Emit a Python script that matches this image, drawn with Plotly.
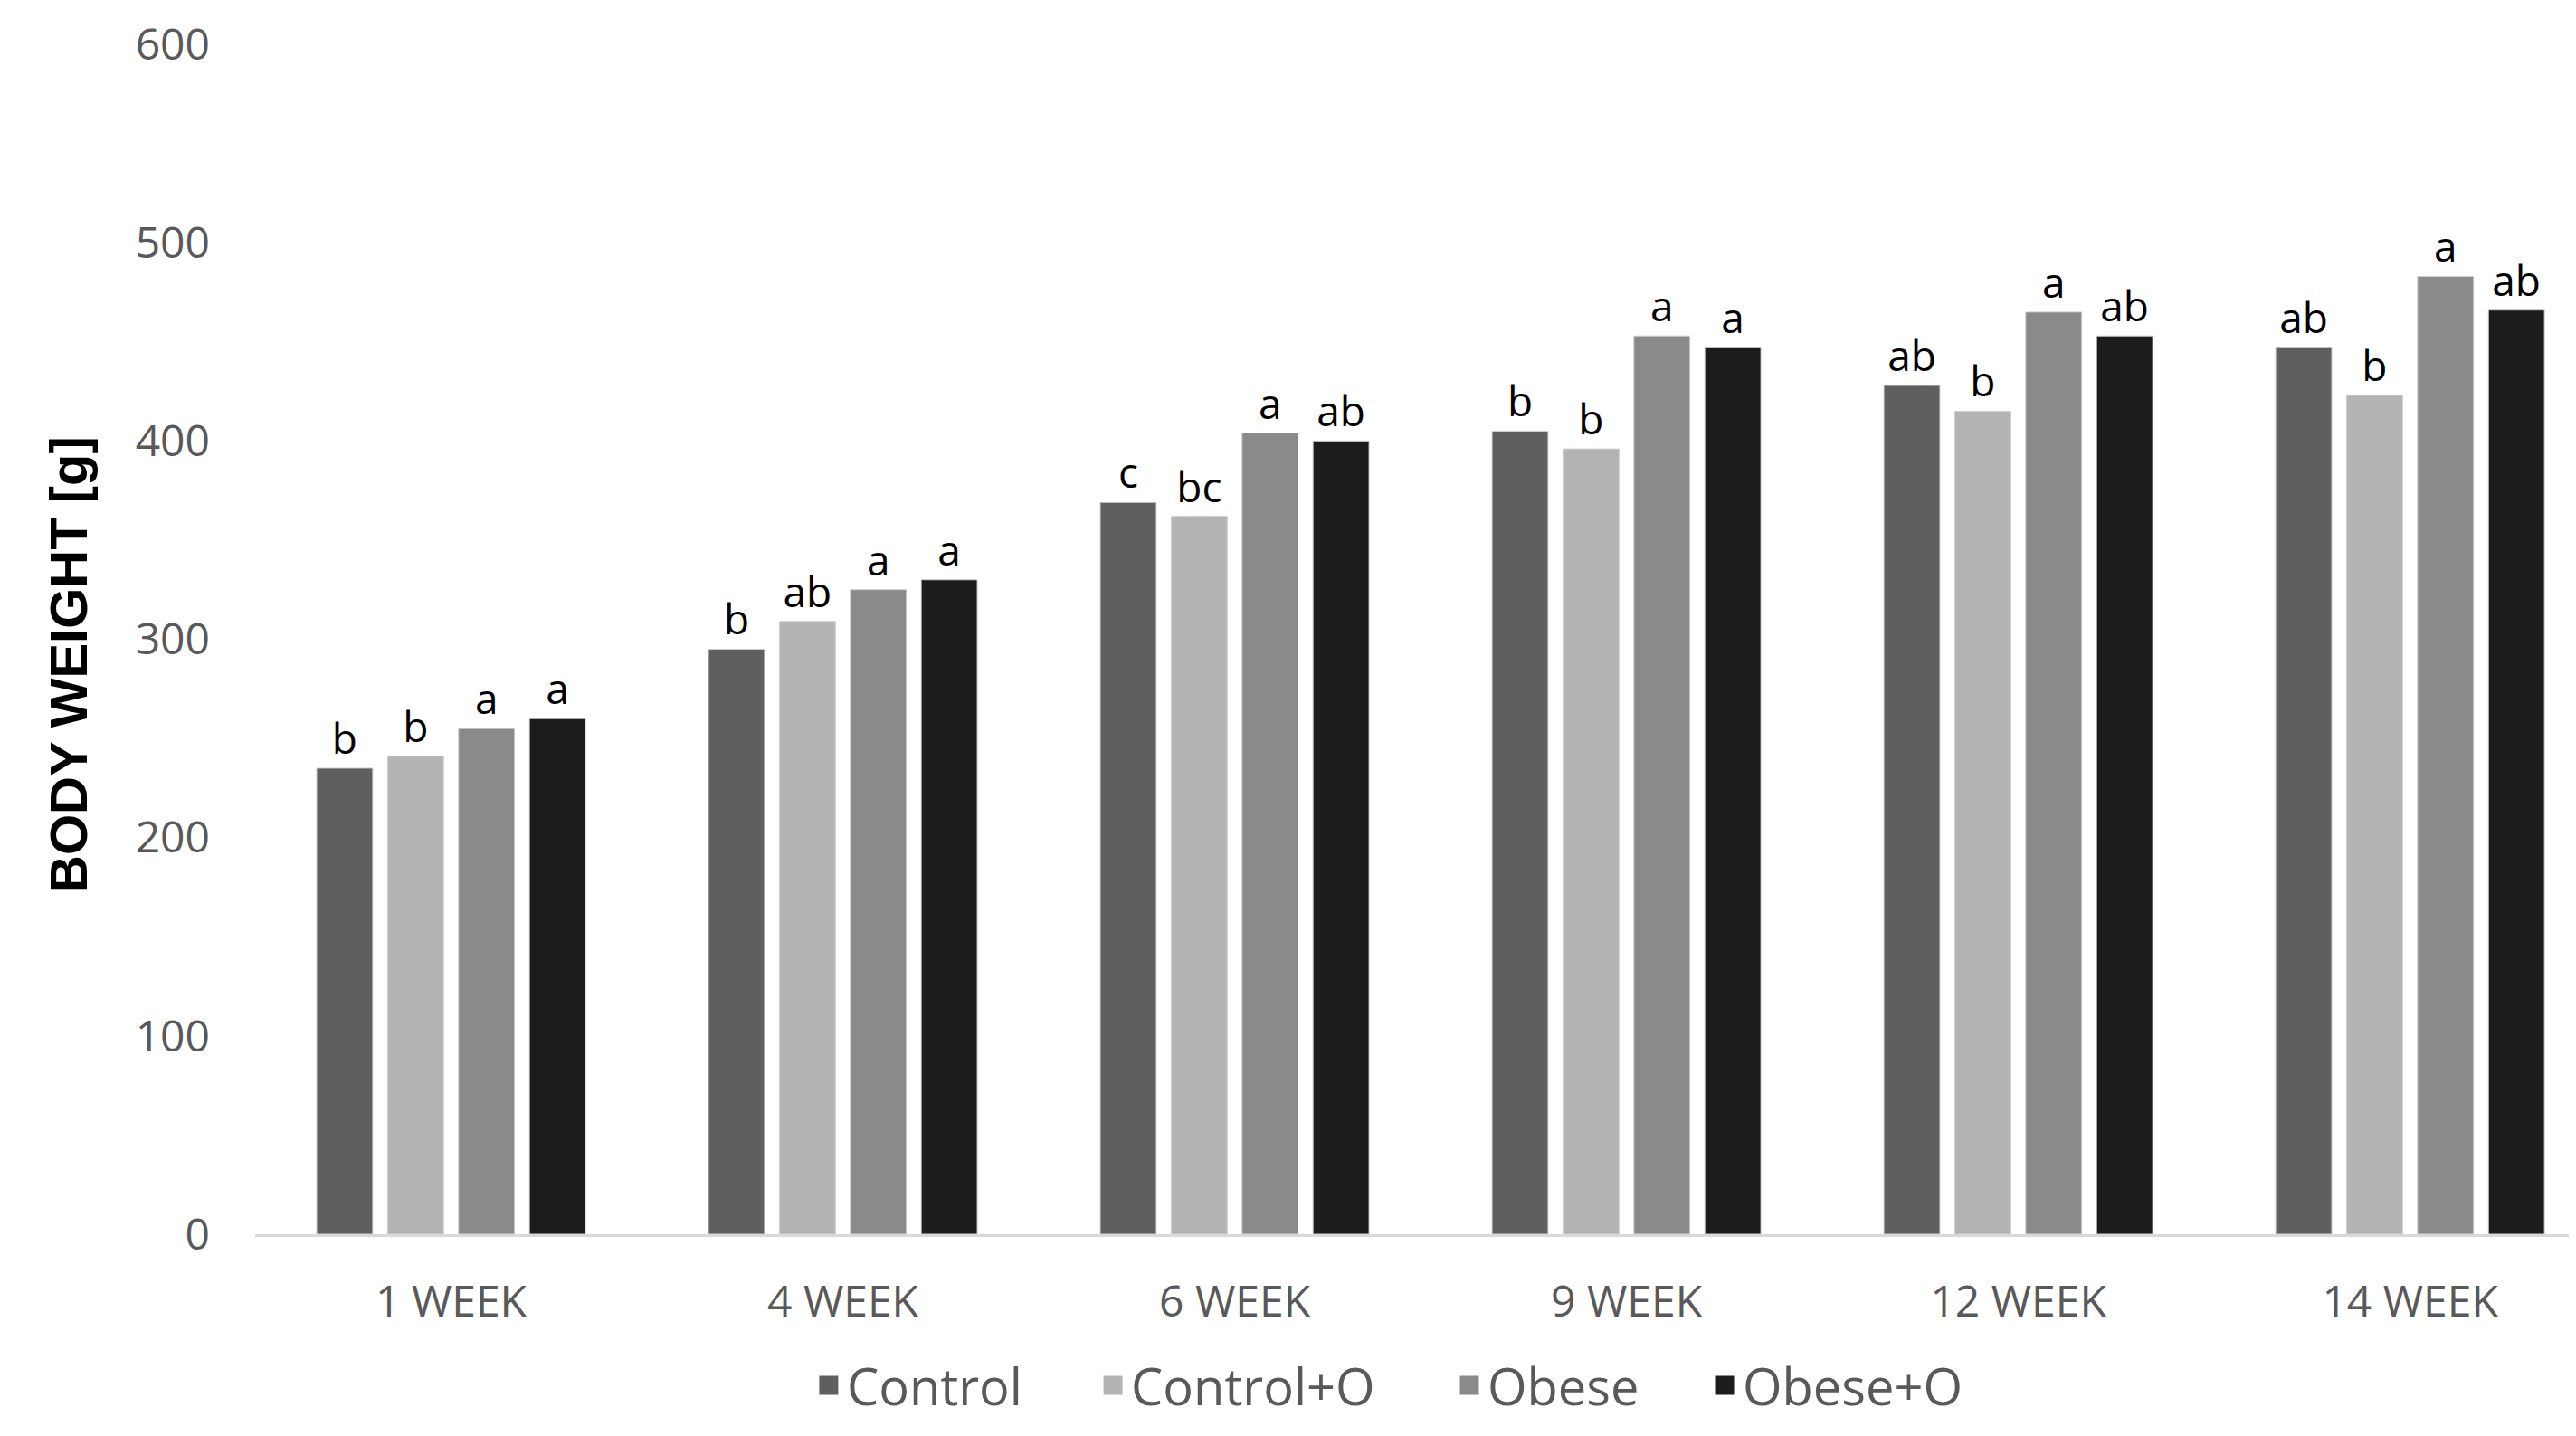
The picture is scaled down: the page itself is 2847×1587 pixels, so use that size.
import plotly.graph_objects as go

weeks = ["1 WEEK", "4 WEEK", "6 WEEK", "9 WEEK", "12 WEEK", "14 WEEK"]
series_names = ["Control", "Control+O", "Obese", "Obese+O"]
control = [235, 295, 369, 405, 428, 447]
control_o = [241, 309, 362, 396, 415, 423]
obese = [255, 325, 404, 453, 465, 483]
obese_o = [260, 330, 400, 447, 453, 466]
letters_control = ["b", "b", "c", "b", "ab", "ab"]
letters_control_o = ["b", "ab", "bc", "b", "b", "b"]
letters_obese = ["a", "a", "a", "a", "a", "a"]
letters_obese_o = ["a", "a", "ab", "a", "ab", "ab"]
colors = ["#5f5f5f", "#b3b3b3", "#8a8a8a", "#1c1c1c"]
y_ticks = [0, 100, 200, 300, 400, 500, 600]

values = [control, control_o, obese, obese_o]
letters = [letters_control, letters_control_o, letters_obese, letters_obese_o]
legend_ids = ["legend", "legend2", "legend3", "legend4"]
legend_x = [0.2386, 0.3607, 0.5138, 0.6234]

fig = go.Figure()
for name, vals, labs, col in zip(series_names, values, letters, colors):
    fig.add_trace(go.Bar(
        x=weeks, y=vals, name=name, text=labs, legendgroup=name, showlegend=False,
        textposition="outside", cliponaxis=False,
        textfont=dict(family="Open Sans, sans-serif", size=46, color="#000000"),
        marker=dict(color=col, line=dict(color="#d0d0d0", width=1)),
    ))
# legend entries with larger square symbols
for name, col, lid in zip(series_names, colors, legend_ids):
    fig.add_trace(go.Scatter(
        x=[None], y=[None], name=name, legendgroup=name, mode="markers", legend=lid,
        marker=dict(symbol="square", size=30, color=col, line=dict(color=col, width=6)),
    ))

legend_common = dict(orientation="h", xanchor="left", y=-0.127, yanchor="middle",
                     font=dict(family="Open Sans, sans-serif", size=56, color="#595959"),
                     itemsizing="trace", itemwidth=30, bgcolor="rgba(0,0,0,0)")

fig.update_layout(
    width=2847, height=1587,
    paper_bgcolor="white", plot_bgcolor="white",
    barmode="group", bargap=0.276, bargroupgap=0.21,
    margin=dict(l=274, r=0, t=41, b=231),
    showlegend=True,
    xaxis=dict(range=[-0.5, 5.442], showline=True, linecolor="#d9d9d9", linewidth=3,
               showgrid=False, ticks="", ticklabelstandoff=30,
               tickfont=dict(family="Open Sans, sans-serif", size=48, color="#595959")),
    yaxis=dict(range=[0, 600], tickvals=y_ticks, showgrid=False, showline=False,
               zeroline=False, ticks="", ticklabelstandoff=49,
               tickfont=dict(family="Open Sans, sans-serif", size=48, color="#595959")),
    annotations=[dict(text="<b>BODY WEIGHT [g]</b>", xref="paper", yref="paper",
                      x=-0.0805, y=0.479, xanchor="center", yanchor="middle",
                      textangle=-90, showarrow=False,
                      font=dict(family="Liberation Sans, Arial, sans-serif", size=58, color="#000000"))],
)
for lid, lx in zip(legend_ids, legend_x):
    fig.update_layout({lid: dict(x=lx, **legend_common)})

fig.write_html("out.html")
